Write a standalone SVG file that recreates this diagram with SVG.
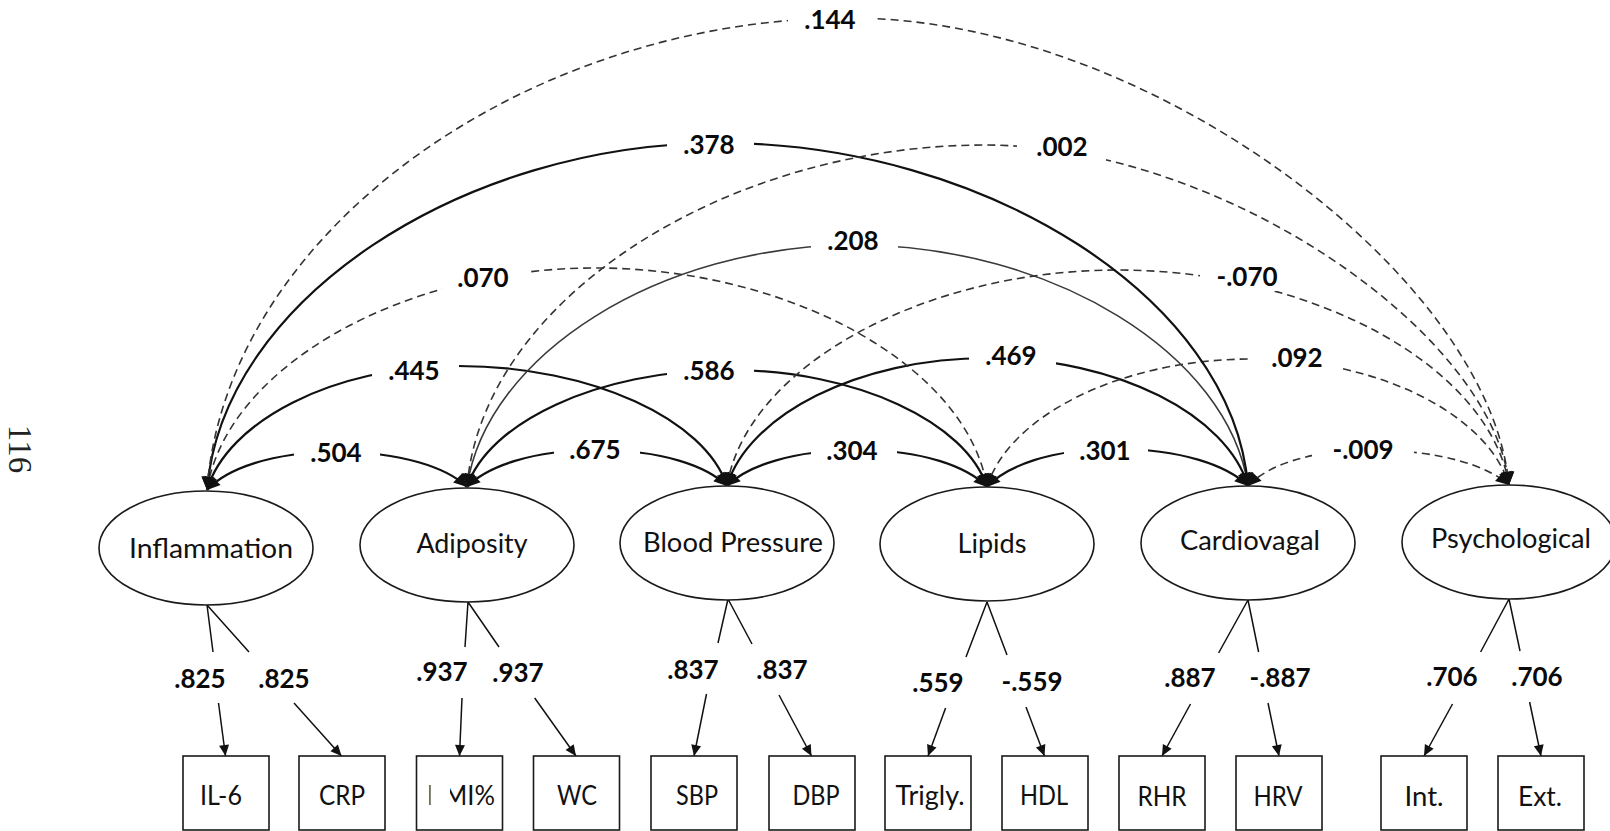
<svg xmlns="http://www.w3.org/2000/svg" width="1610" height="831" viewBox="0 0 1610 831">
  <defs>
    <style>
      .lat { fill: #fff; stroke: #1a1a1a; stroke-width: 1.6; }
      .obs { fill: #fff; stroke: #1a1a1a; stroke-width: 1.6; }
      .nl { font-family: Lato, "Liberation Sans", sans-serif; font-size: 26px; fill: #111; text-anchor: middle; }
      .num { font-family: Lato, "Liberation Sans", sans-serif; font-size: 26px; font-weight: bold; fill: #0a0a0a; text-anchor: middle; }
      .pg { font-family: "Liberation Serif", serif; font-size: 33px; fill: #222; text-anchor: middle; }
      .cov { fill: none; marker-start: url(#ah); marker-end: url(#ah); }
      .sol { stroke: #111; stroke-width: 2.2; }
      .thin { stroke: #3a3a3a; stroke-width: 1.6; }
      .dash { stroke: #333; stroke-width: 1.6; stroke-dasharray: 8 5; }
      .load { fill: none; stroke: #111; stroke-width: 1.5; }
      .arr { marker-end: url(#sh); }
      .gap { fill: #fff; }
    </style>
    <marker id="ah" viewBox="-15 -8 16 16" refX="0" refY="0" markerWidth="16" markerHeight="16" markerUnits="userSpaceOnUse" orient="auto-start-reverse" overflow="visible">
      <path d="M0,0 L-13,-6.5 L-13,6.5 Z" fill="#111"/>
    </marker>
    <marker id="sh" viewBox="-12 -6 13 12" refX="0" refY="0" markerWidth="13" markerHeight="12" markerUnits="userSpaceOnUse" orient="auto" overflow="visible">
      <path d="M0,0 L-11,-5 L-11,5 Z" fill="#111"/>
    </marker>
  </defs>

  <rect x="0" y="0" width="1610" height="831" fill="#fff"/>

  <!-- page number, rotated -->
  <text class="pg" transform="translate(20,449) rotate(90)" y="11">116</text>

  <!-- covariance arcs between factors -->
  <g id="connectors">
    <path class="cov sol" d="M207,490 C226.4,469.1 271.5,452 336,452 C401.5,452 447.3,467.8 467,487"/>
    <path class="cov sol" d="M467,487 C486.5,466.7 532,450 597,450 C662,450 707.5,466.2 727,486"/>
    <path class="cov sol" d="M727,486 C746.7,466.2 792.5,450 858,450 C922.5,450 967.7,466.7 987,487"/>
    <path class="cov sol" d="M987,487 C1006.2,466.1 1051,449 1115,449 C1181.5,449 1228,465.7 1248,486"/>
    <path class="cov dash" d="M1248,486 C1266.3,466.2 1309,450 1370,450 C1439.5,450 1488.2,465.8 1509,485"/>

    <path class="cov sol" d="M207,490 C227,421.8 332.5,366 458,366 C592.5,366 705.5,420 727,486"/>
    <path class="cov sol" d="M467,487 C487.9,422.7 597.5,370 728,370 C857.5,370 966.3,422.7 987,487"/>
    <path class="cov sol" d="M727,486 C747.9,415.6 857.5,358 988,358 C1118,358 1227.2,415.6 1248,486"/>
    <path class="cov dash" d="M987,487 C1008.2,416.6 1119.5,359 1252,359 C1380.5,359 1488.4,415.7 1509,485"/>

    <path class="cov dash" d="M207,490 C226.4,367.9 401,268 595,268 C791,268 967.4,366.6 987,487"/>
    <path class="cov thin" d="M467,487 C486.4,353.9 661,245 855,245 C1051.5,245 1228.4,353.5 1248,486"/>
    <path class="cov dash" d="M727,486 C746.6,367.2 922.5,270 1118,270 C1313.5,270 1489.5,366.8 1509,485"/>

    <path class="cov sol" d="M207,490 C222.4,299.2 463.5,143 720,143 C984,143 1232.2,297.4 1248,486"/>
    <path class="cov dash" d="M467,487 C482.5,298.9 726,145 985,145 C1220.8,145 1493.3,332 1509,485"/>

    <path class="cov dash" d="M207,490 C226.3,230.4 528.5,18 850,18 C1146.5,18 1489.2,274.9 1509,485"/>

    <!-- factor loadings: upper stubs -->
    <path class="load" d="M207,605 L213,652 M207,605 L249,652"/>
    <path class="load" d="M468,602 L465,647 M468,602 L499,647"/>
    <path class="load" d="M728,599 L718,643 M728,599 L752,644"/>
    <path class="load" d="M987,602 L966,657 M987,602 L1007,655"/>
    <path class="load" d="M1248,600 L1218.6,653 M1248,600 L1258.6,652"/>
    <path class="load" d="M1509,599 L1480.6,652 M1509,599 L1520,651"/>

    <!-- factor loadings: arrows into indicators -->
    <path class="load arr" d="M218.5,703 L225.5,756"/>
    <path class="load arr" d="M294,703 L341.5,756"/>
    <path class="load arr" d="M462,698 L459.5,756"/>
    <path class="load arr" d="M534.7,698 L576,756"/>
    <path class="load arr" d="M706.5,694 L694,756"/>
    <path class="load arr" d="M779,695 L811.5,756"/>
    <path class="load arr" d="M945.6,708 L928,756"/>
    <path class="load arr" d="M1026,707 L1044.5,756"/>
    <path class="load arr" d="M1190.5,704 L1162,756"/>
    <path class="load arr" d="M1268,703 L1279,756"/>
    <path class="load arr" d="M1452.5,704 L1424,756"/>
    <path class="load arr" d="M1529.6,702 L1541,756"/>
  </g>

  <!-- coefficient labels on the arcs (white backing breaks the line) -->
  <g id="cov-labels">
    <rect class="gap" x="788" y="6" width="86" height="28"/><text class="num" x="830" y="29">.144</text>
    <rect class="gap" x="667" y="131" width="87" height="28"/><text class="num" x="709" y="154">.378</text>
    <rect class="gap" x="1017" y="133" width="89" height="28"/><text class="num" x="1062" y="156">.002</text>
    <rect class="gap" x="811" y="227" width="87" height="28"/><text class="num" x="853" y="250">.208</text>
    <rect class="gap" x="442" y="264" width="87" height="28"/><text class="num" x="483" y="287">.070</text>
    <rect class="gap" x="1200" y="263" width="94" height="28"/><text class="num" x="1247" y="286">-.070</text>
    <rect class="gap" x="372" y="357" width="87" height="28"/><text class="num" x="414" y="380">.445</text>
    <rect class="gap" x="667" y="357" width="87" height="28"/><text class="num" x="709" y="380">.586</text>
    <rect class="gap" x="969" y="342" width="87" height="28"/><text class="num" x="1011" y="365">.469</text>
    <rect class="gap" x="1250" y="344" width="92" height="28"/><text class="num" x="1297" y="367">.092</text>
    <rect class="gap" x="294" y="439" width="86" height="28"/><text class="num" x="336" y="462">.504</text>
    <rect class="gap" x="554" y="436" width="86" height="28"/><text class="num" x="595" y="459">.675</text>
    <rect class="gap" x="811" y="437" width="86" height="28"/><text class="num" x="852" y="460">.304</text>
    <rect class="gap" x="1064" y="437" width="84" height="28"/><text class="num" x="1105" y="460">.301</text>
    <rect class="gap" x="1312" y="436" width="102" height="28"/><text class="num" x="1363" y="459">-.009</text>
  </g>

  <!-- loading values -->
  <g id="loading-labels">
    <text class="num" x="200" y="688">.825</text>
    <text class="num" x="284" y="688">.825</text>
    <text class="num" x="442" y="681">.937</text>
    <text class="num" x="518" y="682">.937</text>
    <text class="num" x="693" y="679">.837</text>
    <text class="num" x="782" y="679">.837</text>
    <text class="num" x="938" y="692">.559</text>
    <text class="num" x="1032" y="691">-.559</text>
    <text class="num" x="1190" y="687">.887</text>
    <text class="num" x="1280" y="687">-.887</text>
    <text class="num" x="1452" y="686">.706</text>
    <text class="num" x="1537" y="686">.706</text>
  </g>

  <!-- latent factors -->
  <g id="inflammation">
    <ellipse class="lat" cx="206" cy="548" rx="107" ry="57"/>
    <text class="nl" x="211" y="558" textLength="164" lengthAdjust="spacingAndGlyphs">Inflammation</text>
  </g>
  <g id="adiposity">
    <ellipse class="lat" cx="467" cy="545" rx="107" ry="57"/>
    <text class="nl" x="472" y="553" textLength="111" lengthAdjust="spacingAndGlyphs">Adiposity</text>
  </g>
  <g id="blood-pressure">
    <ellipse class="lat" cx="727" cy="543" rx="107" ry="57"/>
    <text class="nl" x="733" y="552" textLength="180" lengthAdjust="spacingAndGlyphs">Blood Pressure</text>
  </g>
  <g id="lipids">
    <ellipse class="lat" cx="987" cy="544" rx="107" ry="57"/>
    <text class="nl" x="992" y="553" textLength="69" lengthAdjust="spacingAndGlyphs">Lipids</text>
  </g>
  <g id="cardiovagal">
    <ellipse class="lat" cx="1248" cy="543" rx="107" ry="57"/>
    <text class="nl" x="1250" y="550" textLength="140" lengthAdjust="spacingAndGlyphs">Cardiovagal</text>
  </g>
  <g id="psychological">
    <ellipse class="lat" cx="1509" cy="542" rx="107" ry="57"/>
    <text class="nl" x="1511" y="548" textLength="160" lengthAdjust="spacingAndGlyphs">Psychological</text>
  </g>

  <!-- observed indicators -->
  <g id="il6"><rect class="obs" x="183" y="756" width="86" height="74"/><text class="nl" x="221" y="805" textLength="42" lengthAdjust="spacingAndGlyphs">IL-6</text></g>
  <g id="crp"><rect class="obs" x="299" y="756" width="86" height="74"/><text class="nl" x="342" y="805" textLength="46" lengthAdjust="spacingAndGlyphs">CRP</text></g>
  <g id="bmi"><rect class="obs" x="416.5" y="756" width="86" height="74"/><text class="nl" x="461" y="805" textLength="68" lengthAdjust="spacingAndGlyphs">BMI%</text><rect x="430.5" y="778" width="19.5" height="32" fill="#fff"/></g>
  <g id="wc"><rect class="obs" x="533.5" y="756" width="86" height="74"/><text class="nl" x="577" y="805" textLength="40" lengthAdjust="spacingAndGlyphs">WC</text></g>
  <g id="sbp"><rect class="obs" x="651" y="756" width="86" height="74"/><text class="nl" x="697" y="805" textLength="42" lengthAdjust="spacingAndGlyphs">SBP</text></g>
  <g id="dbp"><rect class="obs" x="769" y="756" width="86" height="74"/><text class="nl" x="816" y="805" textLength="47" lengthAdjust="spacingAndGlyphs">DBP</text></g>
  <g id="trigly"><rect class="obs" x="885" y="756" width="86" height="74"/><text class="nl" x="930" y="805" textLength="69" lengthAdjust="spacingAndGlyphs">Trigly.</text></g>
  <g id="hdl"><rect class="obs" x="1002" y="756" width="86" height="74"/><text class="nl" x="1044" y="805" textLength="48" lengthAdjust="spacingAndGlyphs">HDL</text></g>
  <g id="rhr"><rect class="obs" x="1119" y="756" width="86" height="74"/><text class="nl" x="1162" y="806" textLength="49" lengthAdjust="spacingAndGlyphs">RHR</text></g>
  <g id="hrv"><rect class="obs" x="1236" y="756" width="86" height="74"/><text class="nl" x="1278" y="806" textLength="49" lengthAdjust="spacingAndGlyphs">HRV</text></g>
  <g id="int"><rect class="obs" x="1381" y="756" width="86" height="74"/><text class="nl" x="1424" y="806" textLength="39" lengthAdjust="spacingAndGlyphs">Int.</text></g>
  <g id="ext"><rect class="obs" x="1498" y="756" width="86" height="74"/><text class="nl" x="1540" y="806" textLength="44" lengthAdjust="spacingAndGlyphs">Ext.</text></g>
</svg>
